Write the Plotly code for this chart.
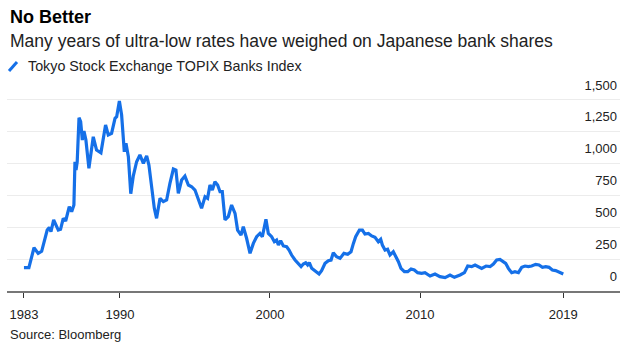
import plotly.graph_objects as go

# ---- data ----
years = [
    1983.6, 1983.93, 1984.27, 1984.55, 1984.78, 1985.15, 1985.29, 1985.4, 1985.58, 1985.89,
    1986.04, 1986.22, 1986.38, 1986.62, 1986.78, 1986.93, 1987.0, 1987.07, 1987.15, 1987.27,
    1987.38, 1987.49, 1987.6, 1987.73, 1987.93, 1988.22, 1988.44, 1988.73, 1989.04, 1989.22,
    1989.44, 1989.67, 1989.78, 1989.96, 1990.11, 1990.29, 1990.4, 1990.56, 1990.72, 1990.89,
    1991.11, 1991.33, 1991.56, 1991.78, 1991.93, 1992.11, 1992.29, 1992.44, 1992.67, 1992.89,
    1993.11, 1993.33, 1993.56, 1993.73, 1993.89, 1994.11, 1994.33, 1994.56, 1994.78, 1995.0,
    1995.22, 1995.44, 1995.67, 1995.84, 1996.0, 1996.16, 1996.33, 1996.51, 1996.67, 1996.82,
    1997.0, 1997.22, 1997.44, 1997.67, 1997.84, 1998.07, 1998.22, 1998.44, 1998.67, 1998.89,
    1999.11, 1999.33, 1999.49, 1999.73, 1999.89, 2000.11, 2000.29, 2000.44, 2000.56, 2000.71,
    2000.89, 2001.11, 2001.27, 2001.44, 2001.67, 2001.89, 2002.07, 2002.22, 2002.38, 2002.51,
    2002.62, 2002.78, 2003.0, 2003.27, 2003.44, 2003.67, 2003.89, 2004.07, 2004.22, 2004.44,
    2004.67, 2004.93, 2005.18, 2005.4, 2005.56, 2005.71, 2005.96, 2006.16, 2006.33, 2006.56,
    2006.78, 2007.0, 2007.22, 2007.38, 2007.49, 2007.67, 2007.84, 2008.0, 2008.22, 2008.4,
    2008.56, 2008.73, 2008.96, 2009.18, 2009.4, 2009.62, 2009.84, 2010.11, 2010.33, 2010.67,
    2011.0, 2011.33, 2011.67, 2012.0, 2012.29, 2012.67, 2012.96, 2013.18, 2013.44, 2013.67,
    2013.93, 2014.11, 2014.4, 2014.67, 2014.89, 2015.11, 2015.33, 2015.55, 2015.71, 2015.89,
    2016.11, 2016.33, 2016.56, 2016.78, 2017.0, 2017.22, 2017.44, 2017.71, 2017.93, 2018.16,
    2018.38, 2018.6, 2018.82, 2019.04, 2019.27, 2019.55,
]
index_values = [
    182, 182, 338, 294, 310, 476, 497, 463, 555, 476,
    482, 568, 547, 659, 620, 672, 1010, 945, 1010, 1354,
    1323, 1180, 1250, 1180, 958, 1205, 1101, 1080, 1297, 1219,
    1232, 1349, 1362, 1484, 1375, 1088, 1154, 1049, 760, 900,
    1010, 1063, 998, 1055, 984, 815, 646, 568, 724, 698,
    711, 841, 953, 945, 763, 867, 898, 828, 815, 789,
    711, 646, 737, 724, 828, 789, 854, 828, 776, 776,
    555, 580, 672, 607, 476, 437, 502, 412, 294, 372,
    424, 450, 424, 560, 450, 424, 385, 398, 359, 393,
    352, 346, 320, 281, 242, 216, 190, 211, 221, 203,
    221, 177, 156, 133, 159, 216, 237, 242, 299, 268,
    255, 294, 287, 307, 372, 424, 476, 476, 445, 450,
    430, 419, 385, 404, 359, 320, 326, 281, 307, 268,
    229, 177, 151, 151, 172, 164, 143, 138, 143, 117,
    133, 112, 104, 125, 107, 125, 143, 195, 190, 203,
    190, 177, 195, 190, 211, 242, 247, 229, 216, 177,
    143, 151, 143, 185, 195, 190, 195, 208, 203, 185,
    190, 185, 164, 159, 146, 133,
]
series_name = "Tokyo Stock Exchange TOPIX Banks Index"
x_tick_labels = ["1983", "1990", "2000", "2010", "2019"]
x_tick_years = [years[0], 1990, 2000, 2010, years[-1]]
y_tick_values = [0, 250, 500, 750, 1000, 1250, 1500]

title = "No Better"
subtitle = "Many years of ultra-low rates have weighed on Japanese bank shares"
source = "Source: Bloomberg"

# ---- layout geometry (pixels) ----
W, H = 631, 348
L, R, T, B = 7, 11, 76, 57
pw, ph = W - L - R, H - T - B

def px(x):
    return (x - L) / pw

def py(y):
    return (H - B - y) / ph

BLUE = "#1570e8"
FONT = "Liberation Sans, Arial, sans-serif"

fig = go.Figure()
fig.add_trace(go.Scatter(
    x=years, y=index_values, mode="lines", name=series_name,
    line=dict(color=BLUE, width=3.2), hoverinfo="x+y",
))

fig.update_layout(
    width=W, height=H,
    margin=dict(l=L, r=R, t=T, b=B, pad=0),
    paper_bgcolor="white", plot_bgcolor="white",
    showlegend=False,
    font=dict(family=FONT, size=13, color="#222"),
    xaxis=dict(
        range=[1982.47, 2023.33], tickmode="array",
        tickvals=x_tick_years, ticktext=x_tick_labels,
        showgrid=False, zeroline=False,
        showline=True, linecolor="#777", linewidth=1.5,
        ticks="outside", ticklen=5, tickcolor="#333", tickwidth=1,
        tickfont=dict(size=13, color="#222"), ticklabelstandoff=6,
    ),
    yaxis=dict(
        range=[0, 1680], side="right", tickmode="array",
        tickvals=y_tick_values, ticktext=[f"{v:,}" for v in y_tick_values],
        ticklabelposition="inside top", ticklabelshift=-5,
        showgrid=True, gridcolor="#ececec", gridwidth=1,
        zeroline=False, showline=False, ticks="",
        tickfont=dict(size=13, color="#222"),
    ),
)

annos = [
    dict(text=f"<b>{title}</b>", x=px(8), y=py(17), size=18, color="#000"),
    dict(text=subtitle, x=px(8), y=py(41), size=17.5, color="#222"),
    dict(text=series_name, x=px(26), y=py(66), size=14.3, color="#222"),
    dict(text=source, x=px(8), y=py(334), size=13, color="#222"),
]
for a in annos:
    fig.add_annotation(
        text=a["text"], x=a["x"], y=a["y"], xref="paper", yref="paper",
        xanchor="left", yanchor="middle", showarrow=False,
        font=dict(size=a["size"], color=a["color"], family=FONT),
    )

# legend swatch (diagonal stroke)
fig.add_shape(type="line", xref="paper", yref="paper",
              x0=px(9), y0=py(71), x1=px(17), y1=py(62),
              line=dict(color=BLUE, width=3))

fig.write_html("out.html")
